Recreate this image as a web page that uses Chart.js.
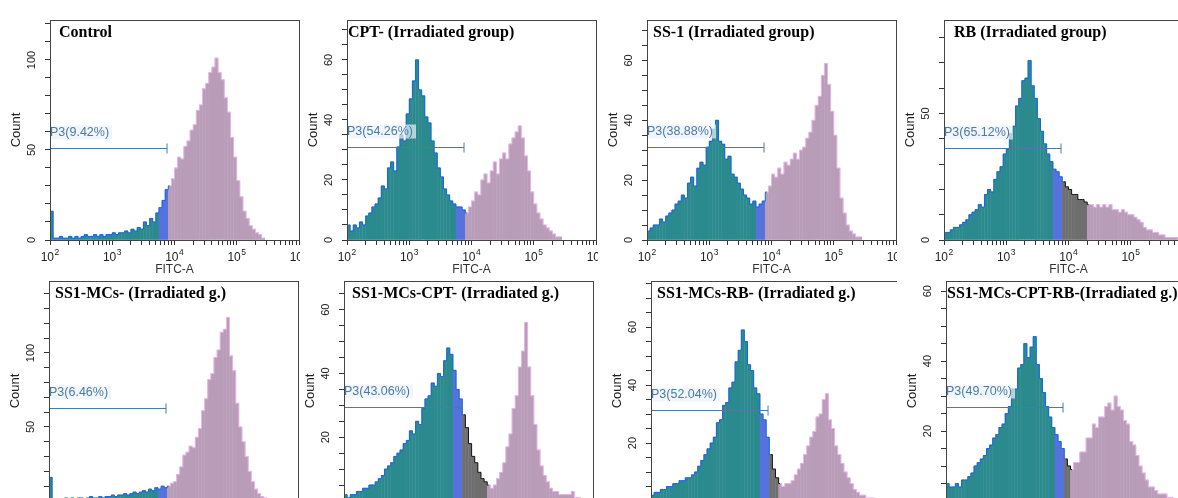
<!DOCTYPE html>
<html>
<head>
<meta charset="utf-8">
<title>FITC-A</title>
<script src="https://cdn.jsdelivr.net/npm/chart.js@4.4.1/dist/chart.umd.min.js"></script>
<style>
  html, body { margin: 0; padding: 0; background: #fff; }
  body { position: relative; width: 1178px; height: 498px; overflow: hidden; }
  .celda { position: absolute; overflow: hidden; }
  .celda canvas { position: absolute; top: 0; }
</style>
</head>
<body>
<script>
// ---- datos ----
const titulos = [
    'Control',
    'CPT- (Irradiated group)',
    'SS-1 (Irradiated group)',
    'RB (Irradiated group)',
    'SS1-MCs- (Irradiated g.)',
    'SS1-MCs-CPT- (Irradiated g.)',
    'SS1-MCs-RB- (Irradiated g.)',
    'SS1-MCs-CPT-RB-(Irradiated g.)'
];
const porcentajeP3 = ['9.42', '54.26', '38.88', '65.12', '6.46', '43.06', '52.04', '49.70'];
const nivelGate = [51, 31, 31, 36.5, 63, 29.5, 31.5, 27];   // altura (Count) de la barra P3
const finGate = 3.88;                                         // log10(FITC-A) del final de P3
const limiteGris = [0, 0, 0, 4.3, 0, 4.3, 4.05, 4.0];         // zona negra a la derecha del gate
const exponentes = ['2', '3', '4', '5', '6'];                 // etiquetas 10^n
const yMax = [122.2, 73.3, 73.5, 87, 148.6, 69, 75.9, 62.9];
const yPaso = [10, 5, 5, 10, 10, 5, 5, 5];
const yEtiqueta = [50, 20, 20, 50, 50, 20, 20, 20];

// histogramas: bins de 0.05 decadas desde 10^2
const binInicio = 2;
const binAncho = 0.05;
const conteoControl = [16,1,1,2,1,1,2,1,2,1, 2,3,2,2,3,2,3,2,3,3, 4,3,4,4,5,4,6,5,7,6,
    10,8,12,10,15,18,22,28,30,34, 40,46,45,52,55,61,64,72,75,84, 87,93,96,101,93,89,79,71,57,46,
    33,24,16,12,8,6,4,3,1];
const conteoCPT = [5,3,5,4,6,5,8,9,11,12, 14,18,17,24,26,23,31,35,33,42, 47,53,60,50,48,41,39,33,29,24,
    21,17,15,13,12,11,11,10,9,11, 13,16,15,20,22,19,23,26,22,27, 29,27,32,34,36,38,34,28,23,16,
    12,9,7,5,4,3,2,1,1];
const conteoSS1 = [3,4,5,5,7,6,8,9,10,12, 13,15,14,19,21,18,24,26,25,31, 33,37,40,33,32,27,28,22,21,19,
    17,15,14,12,13,11,12,13,16,18, 22,21,24,22,26,25,27,29,27,30, 31,34,36,40,45,48,55,59,52,43,
    35,24,14,9,5,3,2,1,1];
const conteoRB = [3,3,4,5,5,6,7,8,10,11, 12,14,13,18,20,19,24,27,29,34, 36,42,45,53,56,63,64,71,61,56,
    48,43,38,34,31,28,27,25,23,21, 20,18,18,16,16,15,14,14,13,14, 13,14,13,14,12,12,11,12,11,10,
    10,9,8,7,5,4,4,3,3,2, 2,1,1,1,1];
const conteoMCs = [16,1,0,1,1,2,1,2,1,2, 2,1,2,3,2,2,3,2,3,3, 4,3,4,4,5,4,5,6,5,6,
    7,6,8,7,9,8,10,9,10,12, 13,18,23,31,33,37,36,43,49,61, 69,82,86,97,102,114,116,124,98,88,
    66,50,40,30,20,13,8,5,3,2, 1];
const conteoMCsCPT = [2,1,2,2,3,3,4,4,5,5, 6,7,8,10,11,12,14,15,16,18, 19,22,21,25,24,29,32,33,37,36,
    40,39,44,48,46,41,35,32,27,23, 18,14,12,9,7,6,5,4,5,7, 9,12,17,21,29,33,42,47,56,42,
    33,24,16,11,8,6,4,3,3,2, 2,2,2,3,1,1];
const conteoMCsRB = [2,3,3,4,4,5,5,6,6,7, 7,8,8,9,10,12,14,16,18,20, 22,27,28,33,34,39,41,48,52,59,
    55,47,45,39,37,30,28,22,16,11, 8,6,5,6,6,7,9,11,13,16, 19,22,24,29,30,35,37,28,25,19,
    16,13,10,8,6,4,3,2,2,1, 1,1];
const conteoMCsCPTRB = [5,4,4,5,4,6,6,7,8,10, 11,12,13,15,16,18,19,21,22,25, 27,32,32,38,39,45,41,44,47,39,
    35,31,27,24,21,19,17,15,12,10, 9,11,11,14,14,18,18,22,21,24, 24,27,28,26,30,27,26,23,22,17,
    16,13,10,8,6,4,4,3,2,2, 2,1,1];
const conteos = [conteoControl, conteoCPT, conteoSS1, conteoRB, conteoMCs, conteoMCsCPT, conteoMCsRB, conteoMCsCPTRB];

// ---- disposicion ----
const celdas = [
    {left: 0, top: 0, w: 300, h: 280}, {left: 300, top: 0, w: 298, h: 280},
    {left: 598, top: 0, w: 299, h: 280}, {left: 897, top: 0, w: 281, h: 280},
    {left: 0, top: 280, w: 300, h: 218}, {left: 300, top: 280, w: 298, h: 218},
    {left: 598, top: 280, w: 299, h: 218}, {left: 897, top: 280, w: 281, h: 218}
];
const bordeIzq = [50, 347, 647, 944, 49, 344, 651, 946];
const tituloDx = [9, 1, 6, 10, 6, 8, 6, 1];
const EJE_Y = 45;

const teal = '#2b8a8d', azulBanda = '#5572dd', azulBorde = '#1565e8';
const malva = '#b89cb8', rosaBorde = '#ebb6eb', gris = '#6e6e6e', negro = '#151515';
const colorGate = '#4a7ba6';

Chart.defaults.font.family = "'Liberation Sans', Arial, sans-serif";

function colorRelleno(i, x) {
    if (x < 3.75) return teal;
    if (x < 3.9) return azulBanda;
    if (x < limiteGris[i]) return gris;
    return malva;
}
function colorBorde(i, x) {
    if (x < 3.9) return azulBorde;
    if (x < limiteGris[i]) return negro;
    return rosaBorde;
}

const extrasPanel = {
    id: 'extrasPanel',
    afterDatasetsDraw(chart, args, opts) {
        const i = opts.idx;
        const {ctx, scales: {x, y}} = chart;
        const x0 = x.getPixelForValue(2), x1 = x.getPixelForValue(finGate);
        const yy = Math.round(y.getPixelForValue(nivelGate[i])) + 0.5;
        ctx.save();
        ctx.strokeStyle = colorGate;
        ctx.lineWidth = 1;
        ctx.beginPath();
        ctx.moveTo(x0, yy); ctx.lineTo(x1, yy);
        ctx.moveTo(x1, yy - 5); ctx.lineTo(x1, yy + 5);
        ctx.stroke();
        const txt = 'P3(' + porcentajeP3[i] + '%)';
        ctx.font = "12.5px 'Liberation Sans', Arial, sans-serif";
        const w = ctx.measureText(txt).width;
        ctx.fillStyle = 'rgba(236,242,250,0.7)';
        ctx.fillRect(x0 + 1, yy - 23, w + 2, 14);
        ctx.fillStyle = colorGate;
        ctx.textBaseline = 'middle';
        ctx.textAlign = 'left';
        ctx.fillText(txt, x0, yy - 16);
        ctx.restore();
    },
    afterDraw(chart, args, opts) {
        const i = opts.idx;
        const {ctx, chartArea: a, scales: {x, y}} = chart;
        ctx.save();
        // caja
        ctx.strokeStyle = '#444';
        ctx.lineWidth = 1;
        ctx.strokeRect(Math.round(a.left) + 0.5, Math.round(a.top) + 0.5, Math.round(a.right - a.left), Math.round(a.bottom - a.top));
        // titulo del panel
        ctx.fillStyle = '#000';
        ctx.font = "bold 16px 'Liberation Serif', 'Times New Roman', serif";
        ctx.textBaseline = 'middle';
        ctx.textAlign = 'left';
        ctx.fillText(titulos[i], a.left + tituloDx[i], a.top + 13);
        // etiquetas x: 10^n
        ctx.fillStyle = '#222';
        exponentes.forEach((e, k) => {
            const px = x.getPixelForValue(2 + k);
            const py = a.bottom + 18;
            ctx.font = "12px 'Liberation Sans', Arial, sans-serif";
            ctx.textAlign = 'right';
            ctx.fillText('10', px + 4, py);
            ctx.font = "8.5px 'Liberation Sans', Arial, sans-serif";
            ctx.textAlign = 'left';
            ctx.fillText(e, px + 4.5, py - 5);
        });
        // etiquetas y rotadas
        ctx.font = "11px 'Liberation Sans', Arial, sans-serif";
        ctx.textAlign = 'center';
        for (let v = 0; v <= yMax[i]; v += yEtiqueta[i]) {
            const py = y.getPixelForValue(v);
            ctx.save();
            ctx.translate(a.left - 18, py);
            ctx.rotate(-Math.PI / 2);
            ctx.fillText(String(v), 0, 0);
            ctx.restore();
        }
        ctx.restore();
    }
};

function show_grafico(i) {
    const cel = celdas[i];
    const div = document.createElement('div');
    div.className = 'celda';
    div.style.left = cel.left + 'px';
    div.style.top = cel.top + 'px';
    div.style.width = cel.w + 'px';
    div.style.height = cel.h + 'px';
    const cv = document.createElement('canvas');
    cv.width = 306;
    cv.height = cel.top === 0 ? 280 : 261;
    cv.style.left = (bordeIzq[i] - EJE_Y - cel.left) + 'px';
    div.appendChild(cv);
    document.body.appendChild(div);

    const puntos = conteos[i].map((c, k) => ({x: binInicio + binAncho * (k + 0.5), y: c}));

    new Chart(cv, {
        type: 'bar',
        data: {
            datasets: [
                {
                    type: 'line',
                    data: puntos,
                    stepped: 'middle',
                    borderWidth: 1,
                    borderColor: azulBorde,
                    segment: { borderColor: s => colorBorde(i, s.p0.parsed.x) },
                    pointRadius: 0,
                    fill: false,
                    order: 0
                },
                {
                    type: 'bar',
                    data: puntos,
                    backgroundColor: c => colorRelleno(i, c.raw ? c.raw.x : 2),
                    borderWidth: 0,
                    barPercentage: 1,
                    categoryPercentage: 1,
                    grouped: false,
                    order: 1
                }
            ]
        },
        options: {
            responsive: false,
            animation: false,
            events: [],
            layout: { padding: { top: cel.top === 0 ? 20 : 1, right: 12, left: 0, bottom: 0 } },
            plugins: {
                legend: { display: false },
                tooltip: { enabled: false },
                extrasPanel: { idx: i }
            },
            scales: {
                x: {
                    type: 'linear', min: 2, max: 6, offset: false,
                    afterBuildTicks: s => {
                        const t = [];
                        for (let n = 2; n < 6; n++) for (let k = 1; k < 10; k++) t.push({value: n + Math.log10(k)});
                        t.push({value: 6});
                        s.ticks = t;
                    },
                    afterFit: s => { s.height = 40; },
                    ticks: { display: false },
                    grid: { drawOnChartArea: false, offset: false, tickLength: 5, color: '#333' },
                    border: { color: '#333' },
                    title: { display: true, text: 'FITC-A', color: '#333', font: { size: 12 }, padding: { top: 0, bottom: 3 } }
                },
                y: {
                    min: 0, max: yMax[i],
                    afterBuildTicks: s => {
                        const t = [];
                        for (let v = 0; v <= yMax[i]; v += yPaso[i]) t.push({value: v});
                        s.ticks = t;
                    },
                    afterFit: s => { s.width = EJE_Y; },
                    ticks: { display: false },
                    grid: { drawOnChartArea: false, tickLength: 5, color: '#333' },
                    border: { color: '#333' },
                    title: { display: true, text: 'Count', color: '#222', font: { size: 13 }, padding: { top: 4, bottom: 0 } }
                }
            }
        },
        plugins: [extrasPanel]
    });
}

for (let i = 0; i < 8; i++) show_grafico(i);
</script>
</body>
</html>
